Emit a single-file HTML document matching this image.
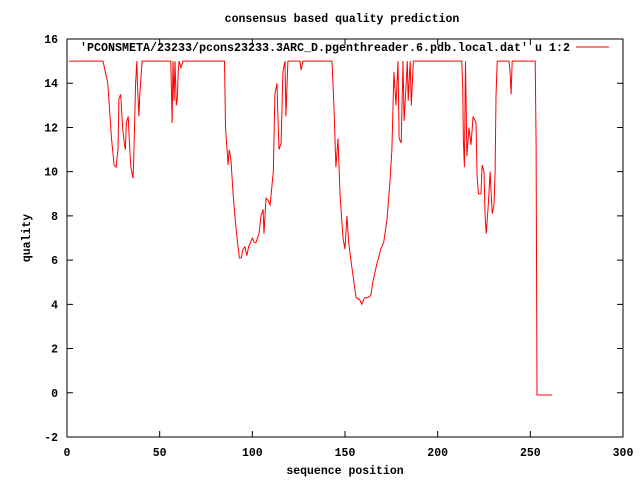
<!DOCTYPE html>
<html><head><meta charset="utf-8"><style>
body{margin:0;background:#fff}
svg{display:block}
text{font-family:"Liberation Mono",monospace;font-size:11.5px;font-weight:bold;fill:#000}
</style></head><body>
<svg id="chart" width="640" height="480">
<text x="342" y="22" text-anchor="middle">consensus based quality prediction</text>
<text x="345" y="474" text-anchor="middle">sequence position</text>
<text transform="translate(30,238) rotate(-90)" text-anchor="middle">quality</text>
<g id="axes"></g>
<rect x="67" y="39" width="556" height="398" fill="none" stroke="#000" stroke-width="1"/>
<g>
<text x="570" y="51" text-anchor="end" textLength="490" lengthAdjust="spacingAndGlyphs">'PCONSMETA/23233/pcons23233.3ARC_D.pgenthreader.6.pdb.local.dat' u 1:2</text>
<line x1="576" y1="47" x2="609" y2="47" stroke="#f00" stroke-width="1"/>
</g>
<polyline id="series" fill="none" stroke="#f00" stroke-width="1"/>
</svg>
<script>
const xTicks=[0,50,100,150,200,250,300];
const yTicks=[-2,0,2,4,6,8,10,12,14,16];
const positions=[
1,19.4,22,24,25.4,26.5,27.5,28,29,30,31,31.5,32,33,34,34.5,35.6,36,37,37.7,38,38.8,39.3,40.5,
56,56.7,57.2,57.8,58.3,59,59.5,60,60.5,61.5,62.5,85,
85.5,86.9,87.5,88.5,89.6,90.6,91.7,93,94,95,96,97,98,100,101,102,103.6,104.7,105.8,106.3,107.4,108.5,109.6,111.3,112.2,113.3,113.8,114.4,115.5,116.5,117.6,118.1,119.2,125.7,126.3,127.3,143,
144,145.1,146.2,147.3,148.9,150,151,152,153.2,154.8,156,158,159,160.6,162.3,163.9,165,167.1,169.3,170.9,172.6,174.2,175.3,176.4,177.5,178.6,179.2,180.3,181.3,181.9,183,183.6,184.1,185.2,185.8,186.9,213,
213.5,213.9,214.4,215,215.8,216.9,218,219.1,220.7,221.3,222,223.4,224,225,225.6,226.2,227.3,228.3,229.4,230.4,231,231.5,232.1,238.5,239.1,239.6,240.2,252.6,253.1,253.6,261.7];
const qualities=[
15,15,14,11.5,10.3,10.2,11,13.3,13.5,12,11.2,11,12.2,12.5,10.8,10.2,9.7,10.5,14,15,14,12.5,13.5,15,
15,12.2,15,13.2,15,13,13.3,14.5,15,14.7,15,15,
12,10.3,11,10.5,9,8,7,6.1,6.1,6.5,6.6,6.2,6.6,7,6.8,6.8,7.2,8,8.3,7.2,8.8,8.7,8.5,10,13.5,14,12.5,11,11.3,14.5,15,12.5,15,15,14.6,15,15,
13,10.2,11.5,9,7,6.5,8,6.8,6,5,4.3,4.2,4,4.3,4.3,4.4,5,5.8,6.5,6.8,7.8,9.5,11,14.5,13,15,11.5,11.3,15,12.3,14,15,13.2,15,13,15,15,
13.8,11.4,10.2,15,10.7,12,11.2,12.5,12.2,9.8,9,9,10.3,10,8,7.2,8.5,10,8.1,8.5,10,13.4,15,15,14.5,13.5,15,15,11.3,-0.1,-0.1];
const X0=67,X1=623,Y0=437,Y1=39;
const sx=v=>X0+(v-0)/(300-0)*(X1-X0);
const sy=v=>Y0-(v-(-2))/(16-(-2))*(Y0-Y1);
const NS="http://www.w3.org/2000/svg";
const axes=document.getElementById('axes');
xTicks.forEach(t=>{
  const x=sx(t);
  const l=document.createElementNS(NS,'path');
  l.setAttribute('d',`M${x},${Y0}v-6M${x},${Y1}v6`);
  l.setAttribute('stroke','#000');
  
  
  axes.appendChild(l);
  const tx=document.createElementNS(NS,'text');
  tx.setAttribute('x',x);tx.setAttribute('y',Y0+19);tx.setAttribute('text-anchor','middle');
  tx.textContent=t;
  
  
  axes.appendChild(tx);
});
yTicks.forEach(t=>{
  const y=sy(t);
  const l=document.createElementNS(NS,'path');
  l.setAttribute('d',`M${X0},${y}h6M${X1},${y}h-6`);
  l.setAttribute('stroke','#000');
  
  
  axes.appendChild(l);
  const tx=document.createElementNS(NS,'text');
  tx.setAttribute('x',X0-9);tx.setAttribute('y',y+4);tx.setAttribute('text-anchor','end');
  tx.textContent=t;
  
  
  axes.appendChild(tx);
});
document.getElementById('series').setAttribute('points',positions.map((p,i)=>sx(p).toFixed(1)+','+sy(qualities[i]).toFixed(1)).join(' '));
</script>
</body></html>
